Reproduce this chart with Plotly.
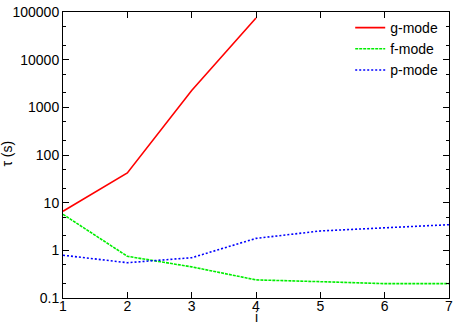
import plotly.graph_objects as go

# mode index
i_vals = [1, 2, 3, 4, 5, 6, 7]

# damping times tau (s)
g_mode = [6.6, 42, 2250, 75000]
f_mode = [5.7, 0.75, 0.45, 0.24, 0.22, 0.20, 0.20]
p_mode = [0.79, 0.55, 0.70, 1.78, 2.55, 2.95, 3.45]

y_tickvals = [0.1, 1, 10, 100, 1000, 10000, 100000]
y_ticktext = ["0.1", "1", "10", "100", "1000", "10000", "100000"]

font = dict(family="Liberation Sans, Arial, sans-serif", size=14, color="black")

fig = go.Figure()
fig.add_trace(go.Scatter(x=i_vals[:len(g_mode)], y=g_mode, mode="lines", name="g-mode",
                         line=dict(color="#ff0000", width=1.6)))
fig.add_trace(go.Scatter(x=i_vals, y=f_mode, mode="lines", name="f-mode",
                         line=dict(color="#00ee00", width=1.6, dash="3px,1px")))
fig.add_trace(go.Scatter(x=i_vals, y=p_mode, mode="lines", name="p-mode",
                         line=dict(color="#0000ff", width=1.6, dash="2px,2px")))

axis_common = dict(showgrid=False, zeroline=False, showline=True, linecolor="black",
                   linewidth=1, mirror="ticks", ticks="inside", tickcolor="black",
                   ticklen=6, tickfont=font, automargin=False)

fig.update_xaxes(range=[1, 7], tickvals=i_vals, ticklabelstandoff=-5, **axis_common)
fig.update_yaxes(type="log", range=[-1, 5], tickvals=y_tickvals, ticktext=y_ticktext,
                 minor=dict(ticks="inside", ticklen=3, tickcolor="black", showgrid=False),
                 **axis_common)

# axis titles placed by hand (gnuplot style)
fig.add_annotation(text="τ (s)", xref="paper", yref="paper", x=-0.145, y=0.505,
                   xanchor="center", yanchor="middle", textangle=-90,
                   showarrow=False, font=font)
fig.add_annotation(text="i", xref="paper", yref="paper", x=0.5, y=-0.0979,
                   xanchor="center", yanchor="bottom", borderpad=0,
                   showarrow=False, font=font)

fig.update_layout(
    width=465, height=326,
    margin=dict(l=63, r=16, t=12, b=28),
    plot_bgcolor="white", paper_bgcolor="white",
    font=font,
    showlegend=True,
    legend=dict(x=0.985, y=1.0, xanchor="right", yanchor="top",
                bgcolor="rgba(0,0,0,0)", font=font, tracegroupgap=0,
                itemwidth=30),
)

fig.write_html("out.html", config={"displayModeBar": False},
               post_script="document.body.style.margin='0';")
